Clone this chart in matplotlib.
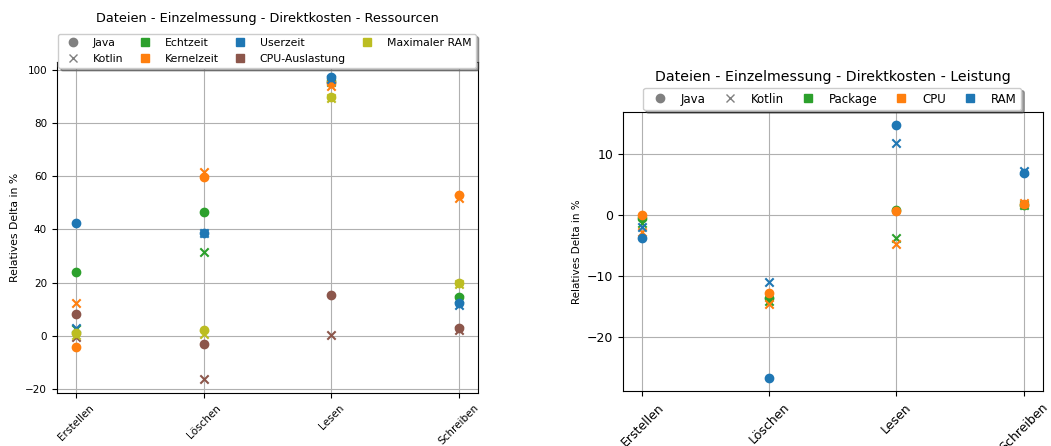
import matplotlib.pyplot as plt
from matplotlib.lines import Line2D

categories = ["Erstellen", "Löschen", "Lesen", "Schreiben"]

# left chart: Ressourcen
res_names = ["Echtzeit", "Kernelzeit", "Userzeit", "CPU-Auslastung", "Maximaler RAM"]
res_colors = ["tab:green", "tab:orange", "tab:blue", "tab:brown", "tab:olive"]
res_java = [
    [24.0, 46.5, 96.0, 14.5],
    [-4.3, 59.6, 95.0, 53.0],
    [42.5, 38.7, 97.5, 12.5],
    [8.2, -3.0, 15.3, 3.0],
    [1.0, 2.2, 89.8, 20.0],
]
res_kotlin = [
    [2.5, 31.5, 95.5, 14.0],
    [12.5, 61.5, 94.0, 52.0],
    [3.0, 38.5, 96.5, 11.5],
    [-0.5, -16.2, 0.2, 2.0],
    [0.3, 0.5, 89.5, 19.5],
]

# right chart: Leistung
pow_names = ["Package", "CPU", "RAM"]
pow_colors = ["tab:green", "tab:orange", "tab:blue"]
pow_java = [
    [-0.5, -13.7, 0.9, 1.7],
    [0.1, -12.9, 0.7, 1.8],
    [-3.8, -26.9, 14.9, 7.0],
]
pow_kotlin = [
    [-1.3, -14.1, -3.7, 1.7],
    [-2.7, -14.7, -4.7, 2.0],
    [-1.9, -11.0, 11.9, 7.2],
]


def draw(ax, names, colors, java, kotlin, fs, label_fs):
    for name, col, yj, yk in zip(names, colors, java, kotlin):
        ax.scatter(categories, yj, color=col, marker="o", s=36, zorder=3)
        ax.scatter(categories, yk, color=col, marker="x", s=36, zorder=3)
    ax.grid(True, zorder=0)
    ax.set_axisbelow(True)
    ax.set_ylabel("Relatives Delta in %", fontsize=label_fs)
    ax.tick_params(labelsize=fs)
    ax.tick_params(axis="x", labelrotation=45)
    handles = [
        Line2D([], [], color="gray", marker="o", linestyle="", label="Java"),
        Line2D([], [], color="gray", marker="x", linestyle="", label="Kotlin"),
    ]
    for name, col in zip(names, colors):
        handles.append(Line2D([], [], color=col, marker="s", linestyle="", label=name))
    return handles


fig = plt.figure(figsize=(10.51, 4.46), dpi=100)

ax1 = fig.add_axes([0.054, 0.119, 0.401, 0.742])
h1 = draw(ax1, res_names, res_colors, res_java, res_kotlin, 7.5, 7.8)
ax1.set_ylim(-21.5, 103)
fig.text(0.254, 0.958, "Dateien - Einzelmessung - Direktkosten - Ressourcen",
         ha="center", va="center", fontsize=9.3)
fig.legend(handles=h1, ncol=4, loc="upper center", bbox_to_anchor=(0.254, 0.924),
           fontsize=7.8, shadow=True, columnspacing=1.0, borderaxespad=0)

ax2 = fig.add_axes([0.593, 0.123, 0.399, 0.626])
h2 = draw(ax2, pow_names, pow_colors, pow_java, pow_kotlin, 9, 7.5)
ax2.set_ylim(-29, 17)
fig.text(0.792, 0.827, "Dateien - Einzelmessung - Direktkosten - Leistung",
         ha="center", va="center", fontsize=10.2)
fig.legend(handles=h2, ncol=5, loc="upper center", bbox_to_anchor=(0.792, 0.803),
           fontsize=8.5, shadow=True, columnspacing=1.0, borderaxespad=0)

fig.savefig("out.png", dpi=100)
